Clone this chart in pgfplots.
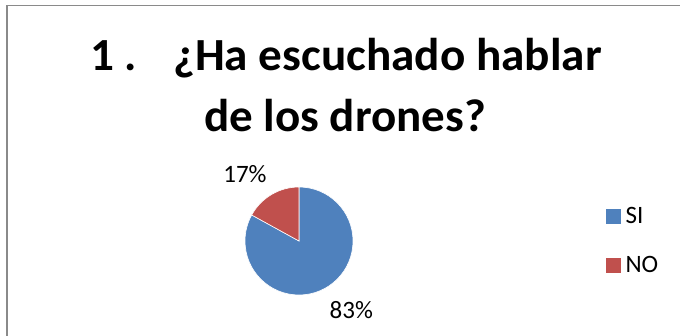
\documentclass[border=0pt]{standalone}
\usepackage{pgfplots}
\usepackage{pgfplotstable}
\usepackage{fontspec}
\setmainfont{Carlito}
\pgfplotsset{compat=1.18}
\definecolor{piblue}{HTML}{4F81BD}
\definecolor{pired}{HTML}{C0504D}
\definecolor{framegray}{HTML}{8A8A8A}
\pgfplotstableread{
label value
SI 83
NO 17
}\piedata

\begin{document}
\begin{tikzpicture}[x=1pt,y=1pt]
\path[use as bounding box] (0,0) rectangle (680,335);
\pgfplotstablegetelem{0}{value}\of\piedata \let\vSI\pgfplotsretval
\pgfplotstablegetelem{1}{value}\of\piedata \let\vNO\pgfplotsretval
\pgfmathsetmacro{\aSI}{\vSI/(\vSI+\vNO)*360}
\begin{axis}[at={(0,0)}, anchor=south west, scale only axis,
  width=680pt, height=335pt, xmin=0, xmax=680, ymin=0, ymax=335,
  hide axis, clip=false,
  legend style={at={(0.886,0.281)}, anchor=west, draw=none, fill=none,
    font=\fontsize{25}{29}\selectfont, row sep=27pt,
    nodes={inner sep=2pt},
    /tikz/every odd column/.append style={column sep=3.5pt}},
  legend cell align=left]
\fill[piblue, draw=white, line width=0.6pt] (axis cs:299,94) -- (axis cs:299,148)
  arc[start angle=90, end angle={90-\aSI}, radius=54pt] -- cycle;
\fill[pired, draw=white, line width=0.6pt] (axis cs:299,94) -- (axis cs:299,148)
  arc[start angle=90, end angle={90+360-\aSI}, radius=54pt] -- cycle;
\addlegendimage{legend image code/.code={\fill[piblue] (0pt,-7pt) rectangle (14pt,7pt);}}
\addlegendentry{SI}
\addlegendimage{legend image code/.code={\fill[pired] (0pt,-7pt) rectangle (14pt,7pt);}}
\addlegendentry{NO}
\node[font=\fontsize{25}{29}\selectfont] at (axis cs:245,161.3) {\vNO\%};
\node[font=\fontsize{25}{29}\selectfont] at (axis cs:351.3,25.3) {\vSI\%};
\node[anchor=base west, inner sep=0pt, font=\fontsize{46}{46}\bfseries\selectfont] at (axis cs:90,264.3) {\scalebox{1.026}[1]{1}};
\node[anchor=base west, inner sep=0pt, font=\fontsize{46}{46}\bfseries\selectfont] at (axis cs:124,264.3) {.};
\node[anchor=base east, inner sep=0pt, font=\fontsize{46}{46}\bfseries\selectfont] at (axis cs:602,264.3) {\scalebox{1.026}[1]{¿Ha escuchado hablar}};
\node[anchor=base, inner sep=0pt, font=\fontsize{46}{46}\bfseries\selectfont] at (axis cs:345,203.3) {\scalebox{1.022}[1]{de los drones?}};
\end{axis}
\draw[framegray, line width=1.8pt] (6.75,-10) -- (6.75,329.5) -- (700,329.5);
\end{tikzpicture}
\end{document}
